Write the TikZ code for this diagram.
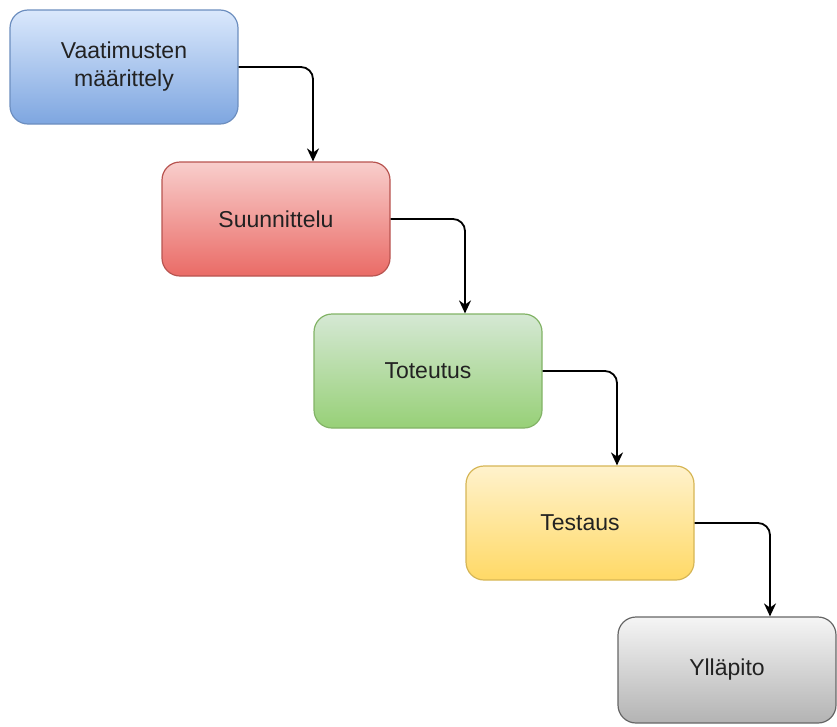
\documentclass[tikz,border=0pt]{standalone}
\usepackage{fontspec}
\setmainfont{Liberation Sans}
\usetikzlibrary{arrows.meta,calc}
\definecolor{bTop}{HTML}{DAE8FC}\definecolor{bBot}{HTML}{7EA6E0}\definecolor{bLine}{HTML}{6C8EBF}
\definecolor{rTop}{HTML}{F8CECC}\definecolor{rBot}{HTML}{EA6B66}\definecolor{rLine}{HTML}{B85450}
\definecolor{gTop}{HTML}{D5E8D4}\definecolor{gBot}{HTML}{97D077}\definecolor{gLine}{HTML}{82B366}
\definecolor{yTop}{HTML}{FFF2CC}\definecolor{yBot}{HTML}{FFD966}\definecolor{yLine}{HTML}{D6B656}
\definecolor{sTop}{HTML}{F5F5F5}\definecolor{sBot}{HTML}{B3B3B3}\definecolor{sLine}{HTML}{666666}
\definecolor{txt}{HTML}{222222}
\tikzset{
  stagebox/.style={rectangle, rounded corners=18pt, line width=1.2pt,
    minimum width=228pt, minimum height=114pt, align=center, text=txt,
    font=\fontsize{23}{28}\selectfont},
  flowarrow/.style={line width=1.8pt, rounded corners=12pt,
    -{Stealth[length=13pt,width=12pt]}}
}
\begin{document}
\begin{tikzpicture}[x=1pt,y=-1pt]
\useasboundingbox (0,0) rectangle (837,726);
\node[stagebox, draw=bLine, top color=bTop, bottom color=bBot] (req) at (124,67) {Vaatimusten\\määrittely};
\node[stagebox, draw=rLine, top color=rTop, bottom color=rBot] (des) at (276,219) {Suunnittelu};
\node[stagebox, draw=gLine, top color=gTop, bottom color=gBot] (imp) at (428,371) {Toteutus};
\node[stagebox, draw=yLine, top color=yTop, bottom color=yBot] (tst) at (580,523) {Testaus};
\node[stagebox, draw=sLine, top color=sTop, bottom color=sBot, minimum width=218pt, minimum height=106pt] (mnt) at (727,670) {Ylläpito};
\draw[flowarrow] (req.east) -| ([xshift=37pt]des.north);
\draw[flowarrow] (des.east) -| ([xshift=37pt]imp.north);
\draw[flowarrow] (imp.east) -| ([xshift=37pt]tst.north);
\draw[flowarrow] (tst.east) -| ([xshift=43pt]mnt.north);
\end{tikzpicture}
\end{document}
